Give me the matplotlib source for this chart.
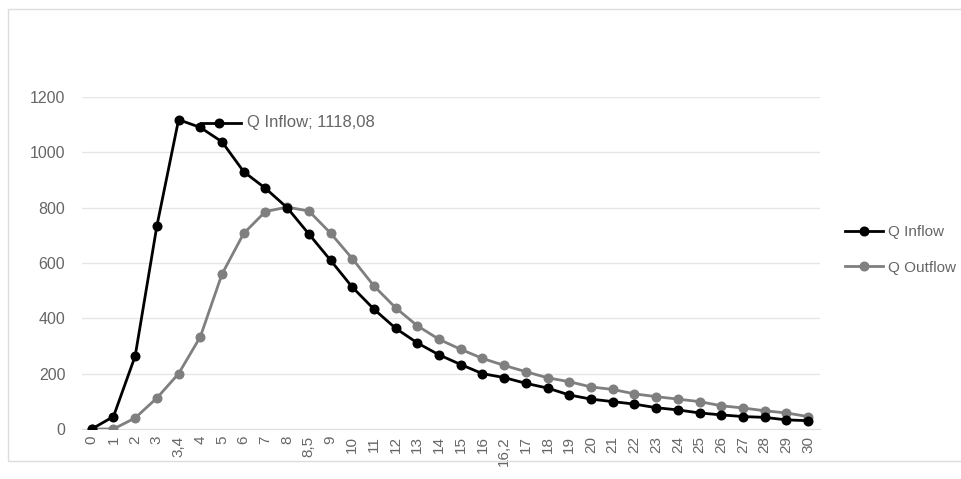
import matplotlib
matplotlib.use("Agg")
import matplotlib.pyplot as plt
from matplotlib.lines import Line2D
from matplotlib.patches import Rectangle

plt.rcParams['font.family'] = ['Liberation Sans', 'DejaVu Sans']

# Time steps (hours) used as categories on the x axis
categories = ["0", "1", "2", "3", "3,4", "4", "5", "6", "7", "8", "8,5", "9",
              "10", "11", "12", "13", "14", "15", "16", "16,2", "17", "18",
              "19", "20", "21", "22", "23", "24", "25", "26", "27", "28",
              "29", "30"]

# Discharge series (m3/s)
q_inflow = [0, 45, 264, 734, 1118.08, 1090, 1038, 930, 870, 800, 705, 610,
            513, 433, 364, 311, 268, 233, 200, 186, 165, 148,
            123, 108, 99, 90, 77, 69, 58, 51, 45, 42, 33, 30]
q_outflow = [0, 0, 40, 112, 200, 333, 560, 707, 786, 802, 788, 708,
             616, 517, 438, 373, 324, 288, 255, 230, 207, 185,
             171, 152, 143, 127, 117, 108, 99, 84, 76, 66, 58, 45]

y_ticks = [0, 200, 400, 600, 800, 1000, 1200]

peak_index = 4
peak_label = "Q Inflow; 1118,08"

W, H, DPI = 962, 479, 100
fig = plt.figure(figsize=(W / DPI, H / DPI), dpi=DPI)
fig.patch.set_facecolor("white")

# faint chart-area frame
fig.patches.append(Rectangle((8 / W, 1 - 461 / H), 1.2, (461 - 9) / H,
                             transform=fig.transFigure, fill=False,
                             edgecolor="#dcdcdc", linewidth=1.0))

ax = fig.add_axes([82 / W, 1 - 429 / H, (820 - 82) / W, (429 - 97) / H])

x = list(range(len(categories)))
inflow_color = "#000000"
outflow_color = "#7f7f7f"

ax.plot(x, q_outflow, color=outflow_color, lw=2.0, marker="o", ms=6.2,
        label="Q Outflow", zorder=3)
ax.plot(x, q_inflow, color=inflow_color, lw=2.0, marker="o", ms=6.2,
        label="Q Inflow", zorder=4)

ax.set_xlim(-0.45, len(categories) - 1 + 0.55)
ax.set_ylim(0, 1200)
ax.set_yticks(y_ticks)
ax.set_yticklabels([str(v) for v in y_ticks])
ax.set_xticks(x)
ax.set_xticklabels(categories, rotation=90)

text_color = "#666666"
ax.tick_params(axis="both", length=0, labelsize=11.5, colors=text_color)
ax.tick_params(axis="y", pad=12)
ax.tick_params(axis="x", pad=5, labelsize=11)
ax.grid(axis="y", color="#e6e6e6", lw=1.0)
ax.set_axisbelow(True)
for side in ("top", "right", "left"):
    ax.spines[side].set_visible(False)
ax.spines["bottom"].set_color("#e0e0e0")

# legend on the right, inflow first
handles, labels = ax.get_legend_handles_labels()
order = [1, 0]
fig.legend([handles[i] for i in order], [labels[i] for i in order],
           loc="center left", bbox_to_anchor=(831 / W, 1 - 250 / H),
           frameon=False, fontsize=11, labelcolor=text_color,
           handlelength=2.5, handletextpad=0.3, labelspacing=1.4)

# data label with legend key next to the peak inflow point
fig.canvas.draw()
px, py = ax.transData.transform((x[peak_index], q_inflow[peak_index]))
ky = py - 3
key = Line2D([px + 22, px + 62], [ky, ky], transform=None, color=inflow_color,
             lw=2.0, zorder=5)
key_dot = Line2D([px + 40], [ky], transform=None, color=inflow_color,
                 marker="o", ms=6.2, lw=0, zorder=5)
fig.add_artist(key)
fig.add_artist(key_dot)
fig.text((px + 68) / W, ky / H, peak_label, ha="left", va="center",
         fontsize=12, color=text_color)

fig.savefig("out.png", dpi=DPI, facecolor="white")
